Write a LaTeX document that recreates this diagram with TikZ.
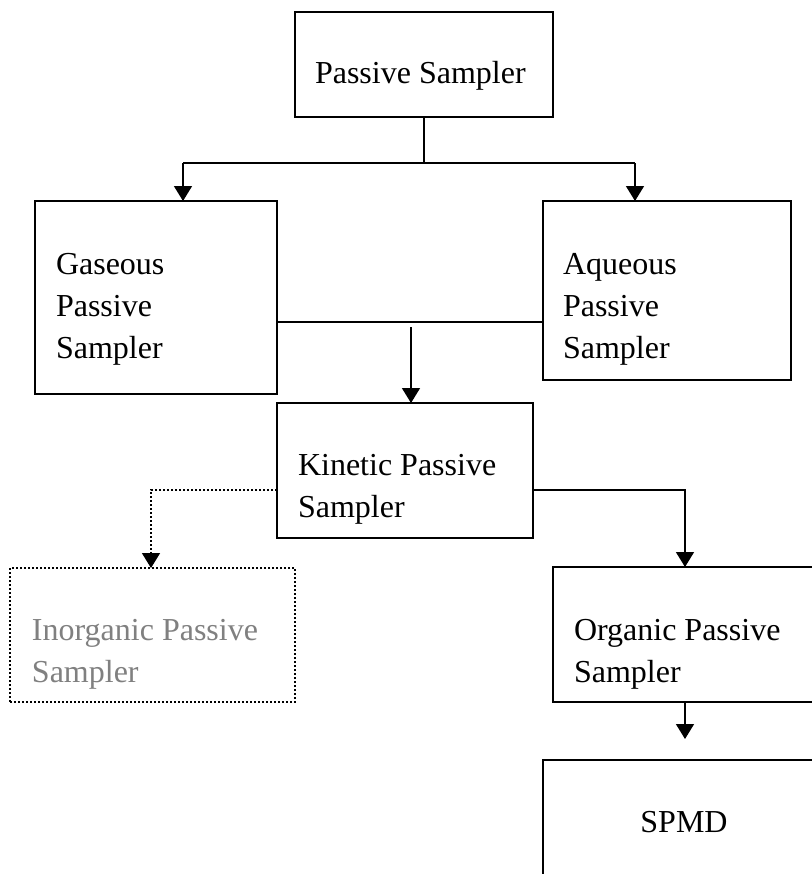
\documentclass[tikz,border=0pt]{standalone}
\usepackage{fontspec}
\setmainfont{Liberation Serif}
\usetikzlibrary{arrows.meta}
\definecolor{inogray}{RGB}{128,128,128}
\tikzset{
  box/.style={draw=black, line width=1pt, rectangle, inner sep=0pt, outer sep=0pt},
  dotbox/.style={draw=black, line width=0.9pt, dash pattern=on 1pt off 1pt, rectangle, inner sep=0pt, outer sep=0pt},
  txt/.style={inner sep=0pt, outer sep=0pt, align=left, font=\fontsize{16pt}{21pt}\selectfont},
  conn/.style={draw=black, line width=0.75pt},
  arr/.style={conn, -{Triangle[length=7.5pt,width=9pt]}},
  dotarr/.style={draw=black, line width=0.8pt, dash pattern=on 1pt off 1pt, -{Triangle[length=7.5pt,width=9pt]}}
}
\begin{document}
\begin{tikzpicture}[x=0.5pt,y=-0.5pt]
\useasboundingbox (0,0) rectangle (812,874);
\clip (0,0) rectangle (812,874);
\fill[white] (0,0) rectangle (812,874);
% boxes
\node[box, minimum width=129pt, minimum height=52.5pt] (ps) at (424,64.5) {};
\node[box, minimum width=121pt, minimum height=96.5pt] (gas) at (156,297.5) {};
\node[box, minimum width=124pt, minimum height=89.5pt] (aq) at (667,290.5) {};
\node[box, minimum width=128pt, minimum height=67.5pt] (kin) at (405,470.5) {};
\node[dotbox, minimum width=142.5pt, minimum height=67pt] (inorg) at (152.5,635) {};
\node[box, minimum width=143.5pt, minimum height=67.5pt] (org) at (696.5,634.5) {};
\node[box, minimum width=148.5pt, minimum height=75pt] (spmd) at (691.5,835) {};
% texts (base anchor = baseline of last line)
\node[txt, anchor=base west] (tps) at (315,83) {Passive Sampler};
\node[txt, anchor=base west] (tgas) at (56,358) {Gaseous\\Passive\\Sampler};
\node[txt, anchor=base west] (taq) at (563,358) {Aqueous\\Passive\\Sampler};
\node[txt, anchor=base west] (tkin) at (298,517) {Kinetic Passive\\Sampler};
\node[txt, anchor=base west, text=inogray] (tinorg) at (32,682) {Inorganic Passive\\Sampler};
\node[txt, anchor=base west] (torg) at (574,682) {Organic Passive\\Sampler};
\node[txt, anchor=base] (tspmd) at (684,832) {SPMD};
% connectors
\coordinate (jL) at (183,163);
\coordinate (jR) at (635,163);
\draw[conn] (ps.south) -- (ps.south |- jL);
\draw[conn] (jL) -- (jR);
\draw[arr] (jL) -- (jL |- gas.north);
\draw[arr] (jR) -- (jR |- aq.north);
\coordinate (mid) at (411,322);
\coordinate (mids) at (411,327);
\draw[conn] (mid -| gas.east) -- (mid -| aq.west);
\draw[arr] (mids) -- (mids |- kin.north);
\coordinate (kL) at (151,490);
\coordinate (kR) at (685,490);
\draw[dotarr] (kL -| kin.west) -- (kL) -- (kL |- inorg.north);
\draw[arr] (kR -| kin.east) -- (kR) -- (kR |- org.north);
\coordinate (se) at (685,739);
\draw[arr] (se |- org.south) -- (se);
\end{tikzpicture}
\end{document}
